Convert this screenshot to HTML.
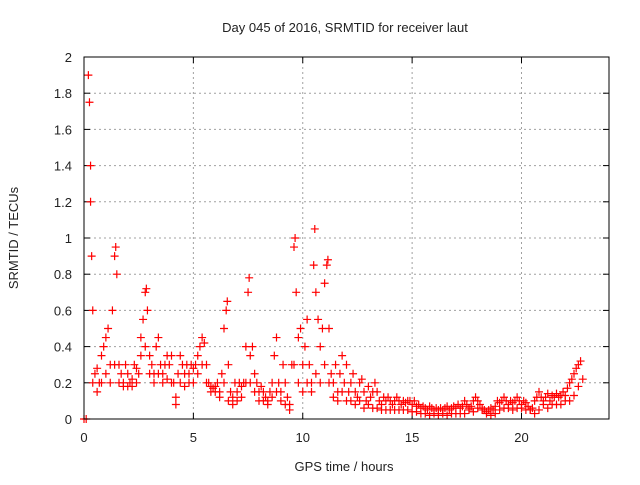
<!DOCTYPE html>
<html><head><meta charset="utf-8"><style>
body{margin:0;background:#fff}
svg text{font-family:"Liberation Sans",sans-serif;font-size:13px;fill:#222}
</style></head><body>
<svg id="c" width="640" height="480">
<text x="345" y="32" text-anchor="middle">Day 045 of 2016, SRMTID for receiver laut</text>
<text x="344" y="471" text-anchor="middle">GPS time / hours</text>
<text x="18" y="238" text-anchor="middle" transform="rotate(-90 18 238)">SRMTID / TECUs</text>
<g id="grid"></g>
<g id="ticks"></g>
<g id="pts"></g>
<rect x="84" y="57" width="525" height="362" fill="none" stroke="#000" stroke-width="1"/>
</svg>
<script>
const xTicks=[0,5,10,15,20];
const yTicks=[0,0.2,0.4,0.6,0.8,1,1.2,1.4,1.6,1.8,2];
const yTickLabels=["0","0.2","0.4","0.6","0.8","1","1.2","1.4","1.6","1.8","2"];
const tStart=0, tStep=0.1;
const values=[0,0,1.9,1.4,0.6,0.25,0.28,0.2,0.35,0.4,0.45,0.5,0.3,0.6,0.9,0.8,0.3,0.25,0.2,0.3,0.25,0.2,0.22,0.3,0.28,0.25,0.45,0.55,0.7,0.6,0.35,0.3,0.25,0.4,0.45,0.3,0.25,0.3,0.35,0.3,0.35,0.2,0.12,0.25,0.35,0.3,0.25,0.3,0.25,0.3,0.28,0.3,0.35,0.4,0.45,0.42,0.3,0.2,0.18,0.17,0.18,0.2,0.15,0.25,0.5,0.6,0.3,0.15,0.12,0.2,0.15,0.2,0.18,0.2,0.4,0.7,0.35,0.4,0.25,0.2,0.15,0.18,0.15,0.12,0.1,0.15,0.2,0.35,0.45,0.2,0.15,0.3,0.2,0.12,0.08,0.3,0.95,0.7,0.45,0.5,0.3,0.4,0.55,0.3,0.2,0.85,0.7,0.55,0.4,0.5,0.75,0.85,0.5,0.25,0.2,0.3,0.15,0.25,0.35,0.2,0.3,0.15,0.2,0.25,0.15,0.12,0.2,0.22,0.15,0.1,0.18,0.12,0.15,0.2,0.15,0.1,0.08,0.12,0.1,0.12,0.1,0.08,0.1,0.12,0.1,0.08,0.1,0.09,0.1,0.1,0.08,0.1,0.07,0.08,0.06,0.07,0.06,0.05,0.07,0.06,0.05,0.06,0.05,0.06,0.05,0.06,0.07,0.05,0.06,0.07,0.06,0.08,0.06,0.07,0.1,0.08,0.06,0.07,0.1,0.12,0.1,0.08,0.06,0.05,0.04,0.05,0.06,0.05,0.07,0.1,0.09,0.1,0.12,0.1,0.08,0.1,0.09,0.1,0.12,0.1,0.08,0.1,0.09,0.07,0.05,0.06,0.1,0.12,0.15,0.12,0.1,0.12,0.14,0.1,0.13,0.12,0.14,0.12,0.13,0.15,0.13,0.17,0.2,0.22,0.25,0.28,0.3,0.32];
const lowStart=0.4, lowStep=0.2;
const lowValues=[0.2,0.15,0.2,0.25,0.2,0.3,0.2,0.18,0.18,0.18,0.2,0.35,0.4,0.25,0.2,0.25,0.2,0.22,0.2,0.08,0.2,0.18,0.2,0.2,0.25,0.3,0.2,0.15,0.15,0.12,0.2,0.1,0.08,0.1,0.12,0.2,0.2,0.15,0.1,0.1,0.08,0.12,0.15,0.1,0.08,0.05,0.3,0.2,0.15,0.2,0.15,0.25,0.2,0.3,0.2,0.12,0.1,0.15,0.1,0.1,0.08,0.1,0.06,0.08,0.06,0.06,0.05,0.05,0.05,0.05,0.05,0.05,0.05,0.04,0.04,0.03,0.03,0.02,0.03,0.02,0.03,0.02,0.03,0.03,0.03,0.03,0.05,0.04,0.06,0.05,0.03,0.02,0.03,0.05,0.06,0.06,0.05,0.06,0.06,0.05,0.05,0.03,0.05,0.08,0.06,0.08,0.08,0.08,0.1,0.1,0.13,0.18,0.22];
const spikeTimes=[0.25,0.3,0.35,9.65,10.55,11.15,1.45,2.85,7.55,6.55];
const spikeValues=[1.75,1.2,0.9,1.0,1.05,0.88,0.95,0.72,0.78,0.65];
const X0=84,X1=609,Y0=419,Y1=57,XMAX=24,YMAX=2;
const sx=v=>X0+(X1-X0)*v/XMAX, sy=v=>Y0-(Y0-Y1)*v/YMAX;
const NS="http://www.w3.org/2000/svg";
const g=document.getElementById('grid'),tk=document.getElementById('ticks'),p=document.getElementById('pts');
function mk(t,a,parent){const e=document.createElementNS(NS,t);for(const k in a)e.setAttribute(k,a[k]);parent.appendChild(e);return e;}
xTicks.forEach(v=>{const x=sx(v);
 if(v>0){const l=mk('line',{x1:x,x2:x,y1:Y1,y2:Y0,stroke:'#a0a0a0','stroke-dasharray':'2,3'},g);
 
 }
 mk('line',{x1:x,x2:x,y1:Y0,y2:Y0-6,stroke:'#000'},tk);
 mk('line',{x1:x,x2:x,y1:Y1,y2:Y1+6,stroke:'#000'},tk);
 const t=mk('text',{x:x,y:Y0+23,'text-anchor':'middle'},tk);t.textContent=v;
 
 
});
yTicks.forEach((v,i)=>{const y=sy(v);
 if(v>0&&v<YMAX){const l=mk('line',{x1:X0,x2:X1,y1:y,y2:y,stroke:'#a0a0a0','stroke-dasharray':'2,3'},g);
 
 }
 mk('line',{x1:X0,x2:X0+6,y1:y,y2:y,stroke:'#000'},tk);
 mk('line',{x1:X1,x2:X1-6,y1:y,y2:y,stroke:'#000'},tk);
 const t=mk('text',{x:X0-12,y:y+5,'text-anchor':'end'},tk);t.textContent=yTickLabels[i];
 
 
});
function cross(t,v){const x=sx(t),y=sy(v);
 const e=mk('path',{d:`M${x-4},${y}H${x+4}M${x},${y-4}V${y+4}`,stroke:'#f00','stroke-width':1.2,fill:'none'},p);
 
 }
values.forEach((v,i)=>cross(tStart+i*tStep,v));
lowValues.forEach((v,i)=>cross(lowStart+i*lowStep,v));
spikeTimes.forEach((t,i)=>cross(t,spikeValues[i]));
</script>
</body></html>
